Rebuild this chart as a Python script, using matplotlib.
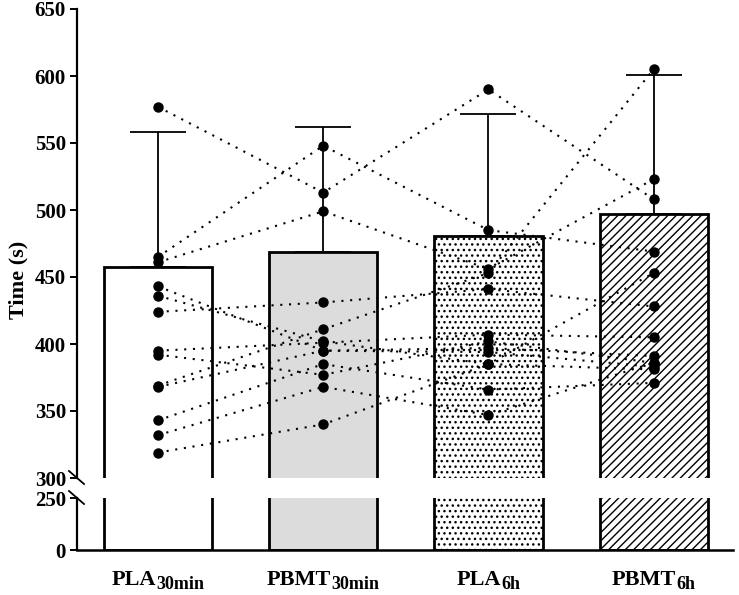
import numpy as np
import matplotlib.pyplot as plt
from matplotlib.lines import Line2D

plt.rcParams['font.family'] = ['Liberation Serif', 'DejaVu Serif']
plt.rcParams['font.weight'] = 'bold'
plt.rcParams['hatch.linewidth'] = 1.0

label_main = ['PLA', 'PBMT', 'PLA', 'PBMT']
label_sub = ['30min', '30min', '6h', '6h']
means = [457.5, 468.7, 480.6, 497.0]
sd = [100.5, 93.3, 91.0, 103.7]

# individual participants, one value per condition (same order in every list)
pla_30 = [577, 465, 461, 443, 436, 424, 395, 392, 369, 368, 343, 332, 319]
pbmt_30 = [513, 548, 499, 395, 402, 431, 401, 377, 411, 395, 385, 368, 340]
pla_6 = [590, 485, 456, 397, 385, 441, 407, 402, 453, 394, 366, 347, 385]
pbmt_6 = [508, 469, 523, 391, 381, 428, 405, 386, 605, 383, 371, 386, 453]

faces = ['white', '#dcdcdc', 'white', 'white']
hatches = [None, None, '...', '////']

fig = plt.figure(figsize=(7.39, 5.95), dpi=100)
W, H = 739, 595
left, right = 77 / W, 733 / W
ax = fig.add_axes([left, 1 - 478 / H, right - left, (478 - 9) / H])
axl = fig.add_axes([left, 1 - 550 / H, right - left, (550 - 498) / H])

x = np.arange(4)
for a in (ax, axl):
    a.bar(x, means, width=0.655, color=faces, edgecolor='black', linewidth=2.0,
          hatch=hatches, zorder=2)
    a.set_xlim(-0.49, 3.48)
    for s in ('top', 'right'):
        a.spines[s].set_visible(False)
    a.spines['left'].set_linewidth(1.6)
    a.spines['bottom'].set_linewidth(1.8)
    a.tick_params(axis='y', direction='out', length=5, width=1.4, labelsize=15, pad=3)

ax.errorbar(x, means, yerr=[np.zeros(4), sd], fmt='none', ecolor='black',
            elinewidth=1.3, capsize=20, capthick=1.3, zorder=1)
data = np.array([pla_30, pbmt_30, pla_6, pbmt_6])
for p in range(data.shape[1]):
    ax.plot(x, data[:, p], color='black', lw=1.5, dashes=(1, 3.2), zorder=3)
    ax.plot(x, data[:, p], 'o', color='black', ms=6.5, zorder=4)

ax.set_ylim(300, 650)
ax.set_yticks(np.arange(300, 651, 50))
ax.spines['bottom'].set_visible(False)
ax.set_xticks([])

axl.set_ylim(0, 250)
axl.set_yticks([0, 250])
axl.set_xticks([])

# axis break marks
for y0, y1 in ((471, 484), (491, 504)):
    fig.add_artist(Line2D([69 / W, 84 / W], [1 - y0 / H, 1 - y1 / H],
                          transform=fig.transFigure, color='black', lw=1.3))

fig.text(18 / W, 1 - 280 / H, 'Time (s)', rotation=90, ha='center', va='center',
         fontsize=16, fontweight='bold')

# category labels with larger-than-mathtext subscripts
fig.canvas.draw()
r = fig.canvas.get_renderer()
for xi, m, s in zip(x, label_main, label_sub):
    cx = axl.transData.transform((xi, 0))[0]
    t1 = fig.text(0, 0, m, fontsize=16, fontweight='bold', ha='left', va='baseline')
    t2 = fig.text(0, 0, s, fontsize=13, fontweight='bold', ha='left', va='baseline')
    w1 = t1.get_window_extent(r).width
    w2 = t2.get_window_extent(r).width
    x0 = cx - (w1 + w2) / 2
    t1.set_position((x0 / W, 1 - 585 / H))
    t2.set_position(((x0 + w1) / W, 1 - 589 / H))

fig.savefig('out.png', dpi=100)
